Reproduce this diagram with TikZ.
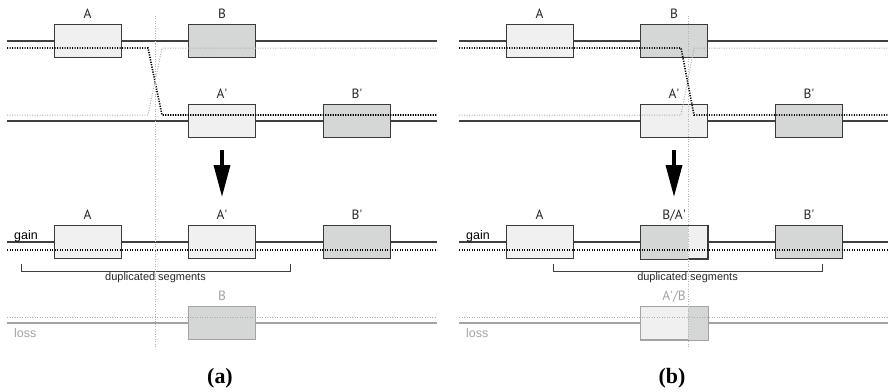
\documentclass[tikz,border=0pt]{standalone}
\usepackage{fontspec}
\setmainfont{Liberation Serif}
\newfontfamily\segfont{PT Sans}
\newfontfamily\notefont{Liberation Sans}
\usetikzlibrary{arrows.meta,positioning}
\definecolor{segedge}{HTML}{3A3A3A}
\definecolor{segpale}{HTML}{F0F0F0}
\definecolor{segdark}{HTML}{D5D7D7}
\definecolor{lossgray}{HTML}{A3A3A3}
\definecolor{guidegray}{HTML}{B4B4B4}
\definecolor{chromcol}{HTML}{404040}
\newcommand{\pr}{\textquotesingle}
\tikzset{
  seg/.style={draw=segedge, line width=1bp, minimum width=67bp, minimum height=33bp, inner sep=0pt},
  pale/.style={seg, fill=segpale},
  dark/.style={seg, fill=segdark},
  lost/.style={draw=lossgray},
  seglabel/.style={font=\segfont\fontsize{13.5}{13.5}\selectfont, text=black!85, inner sep=1bp, text height=9.5bp, text depth=0bp},
  chrom/.style={draw=chromcol, line width=1.5bp},
  lostchrom/.style={draw=lossgray, line width=1.3bp},
  strand/.style={draw=black, line width=1.6bp, dash pattern=on 1.2bp off 1.3bp},
  ghost/.style={draw=lossgray!90, line width=1bp, dash pattern=on 1bp off 1.5bp},
  guide/.style={draw=guidegray, line width=0.8bp, dash pattern=on 1bp off 1.5bp},
  brace/.style={draw=chromcol, line width=1bp},
  note/.style={font=\notefont\fontsize{11}{11}\selectfont, text=black!85, inner sep=0pt},
  rowname/.style={font=\notefont\fontsize{12.5}{12.5}\selectfont, inner sep=0pt, anchor=base west},
  bigarrow/.style={line width=3.5bp, -{Triangle[length=32bp,width=16bp]}},
  panel/.style={font=\bfseries\fontsize{22}{22}\selectfont, inner sep=0pt},
}
\begin{document}
\begin{tikzpicture}[x=1bp,y=1bp]
  \useasboundingbox (0,0) rectangle (888,391);
%%
%% Panel (a)
%%
  % Edge: chromosome lines behind segments
  \coordinate (aTopL) at (7,350);   \coordinate (aTopR) at (437,350);
  \coordinate (aMidL) at (7,270);   \coordinate (aMidR) at (437,270);
  \coordinate (aGainL) at (7,149);  \coordinate (aGainR) at (437,149);
  \coordinate (aLossL) at (7,68);   \coordinate (aLossR) at (437,68);
  \draw[chrom] (aTopL) -- (aTopR);
  \draw[chrom] (aMidL) -- (aMidR);
  \draw[chrom] (aGainL) -- (aGainR);
  \draw[lostchrom] (aLossL) -- (aLossR);
  % Node: segments
  \node[pale] (aA) at (87.5,350) {};
  \node[dark] (aB) at (222,350) {};
  \node[pale] (aA2) at (222,270) {};
  \node[dark] (aB2) at (357,270) {};
  \node[pale] (aGA) at (87.5,149) {};
  \node[pale] (aGA2) at (222,149) {};
  \node[dark] (aGB2) at (357,149) {};
  \node[dark, lost] (aLB) at (222,68) {};
  \node[seglabel, above=4bp of aA] (aLabA) {A};
  \node[seglabel, above=4bp of aB] (aLabB) {B};
  \node[seglabel, above=4bp of aA2] (aLabA2) {A\pr};
  \node[seglabel, above=4bp of aB2] (aLabB2) {B\pr};
  \node[seglabel, above=4bp of aGA] (aLabGA) {A};
  \node[seglabel, above=4bp of aGA2] (aLabGA2) {A\pr};
  \node[seglabel, above=4bp of aGB2] (aLabGB2) {B\pr};
  \node[seglabel, text=lossgray, above=4bp of aLB] (aLabLB) {B};
  % Edge: strands, crossing over
  \coordinate (aCrossT1) at (148,343); \coordinate (aCrossB1) at (162,276);
  \coordinate (aCrossT2) at (162,343); \coordinate (aCrossB2) at (148,276);
  \draw[ghost] (7,276) -- (aCrossB2) -- (aCrossT2) -- (437,343);
  \draw[strand] (7,343) -- (aCrossT1) -- (aCrossB1) -- (437,276);
  \draw[strand] (7,141) -- (437,141);
  \draw[ghost] (7,74) -- (437,74);
  % Node: row names
  \node[rowname] (aGain) at (14,152) {gain};
  \node[rowname, text=lossgray] (aLoss) at (14,54) {loss};
  % Edge: duplicated bracket
  \draw[brace] (21,127) -- (21,120) -- (290,120) -- (290,127);
  \node[note] (aDup) at (155.5,113) {duplicated segments};
  % Edge: big arrow
  \coordinate (aArrTop) at (222,241); \coordinate (aArrTip) at (222,194);
  \draw[bigarrow] (aArrTop) -- (aArrTip);
  % Edge: breakpoint guide
  \coordinate (aGuideT) at (155,375); \coordinate (aGuideB) at (155,43);
  \draw[guide] (aGuideT) -- (aGuideB);
  \node[panel] (aCap) at (220,13) {(a)};
%%
%% Panel (b)
%%
\begin{scope}[xshift=452bp]
  % Edge: chromosome lines behind segments
  \coordinate (bTopL) at (7,350);   \coordinate (bTopR) at (436,350);
  \coordinate (bMidL) at (7,270);   \coordinate (bMidR) at (436,270);
  \coordinate (bGainL) at (7,149);  \coordinate (bGainR) at (436,149);
  \coordinate (bLossL) at (7,68);   \coordinate (bLossR) at (436,68);
  \coordinate (bGuideT) at (236,375); \coordinate (bGuideB) at (236,43);
  \draw[chrom] (bTopL) -- (bTopR);
  \draw[chrom] (bMidL) -- (bMidR);
  \draw[chrom] (bGainL) -- (bGainR);
  \draw[lostchrom] (bLossL) -- (bLossR);
  % Node: segments
  \node[pale] (bA) at (87.5,350) {};
  \node[dark] (bB) at (222,350) {};
  \node[pale] (bA2) at (222,270) {};
  \node[dark] (bB2) at (357,270) {};
  \node[pale] (bGA) at (87.5,149) {};
  \node[pale] (bGBA) at (222,149) {};
  \fill[segdark] (bGBA.south west) rectangle (bGBA.north -| bGuideT);
  \draw[seg] (bGBA.south west) rectangle (bGBA.north east);
  \node[dark] (bGB2) at (357,149) {};
  \node[pale, lost] (bLAB) at (222,68) {};
  \fill[segdark] (bLAB.south -| bGuideT) rectangle (bLAB.north east);
  \draw[seg, lost] (bLAB.south west) rectangle (bLAB.north east);
  \node[seglabel, above=4bp of bA] (bLabA) {A};
  \node[seglabel, above=4bp of bB] (bLabB) {B};
  \node[seglabel, above=4bp of bA2] (bLabA2) {A\pr};
  \node[seglabel, above=4bp of bB2] (bLabB2) {B\pr};
  \node[seglabel, above=4bp of bGA] (bLabGA) {A};
  \node[seglabel, above=4bp of bGBA] (bLabGBA) {B/A\pr};
  \node[seglabel, above=4bp of bGB2] (bLabGB2) {B\pr};
  \node[seglabel, text=lossgray, above=4bp of bLAB] (bLabLAB) {A\pr/B};
  % Edge: strands, crossing over
  \coordinate (bCrossT1) at (229,343); \coordinate (bCrossB1) at (242,276);
  \coordinate (bCrossT2) at (242,343); \coordinate (bCrossB2) at (229,276);
  \draw[ghost] (7,276) -- (bCrossB2) -- (bCrossT2) -- (436,343);
  \draw[strand] (7,343) -- (bCrossT1) -- (bCrossB1) -- (436,276);
  \draw[strand] (7,141) -- (436,141);
  \draw[ghost] (7,74) -- (436,74);
  % Node: row names
  \node[rowname] (bGain) at (14,152) {gain};
  \node[rowname, text=lossgray] (bLoss) at (14,54) {loss};
  % Edge: duplicated bracket
  \draw[brace] (101,127) -- (101,120) -- (370,120) -- (370,127);
  \node[note] (bDup) at (235.5,113) {duplicated segments};
  % Edge: big arrow
  \coordinate (bArrTop) at (222,241); \coordinate (bArrTip) at (222,194);
  \draw[bigarrow] (bArrTop) -- (bArrTip);
  % Edge: breakpoint guide
  \draw[guide] (bGuideT) -- (bGuideB);
  \node[panel] (bCap) at (220,13) {(b)};
\end{scope}
%
\end{tikzpicture}
\end{document}
